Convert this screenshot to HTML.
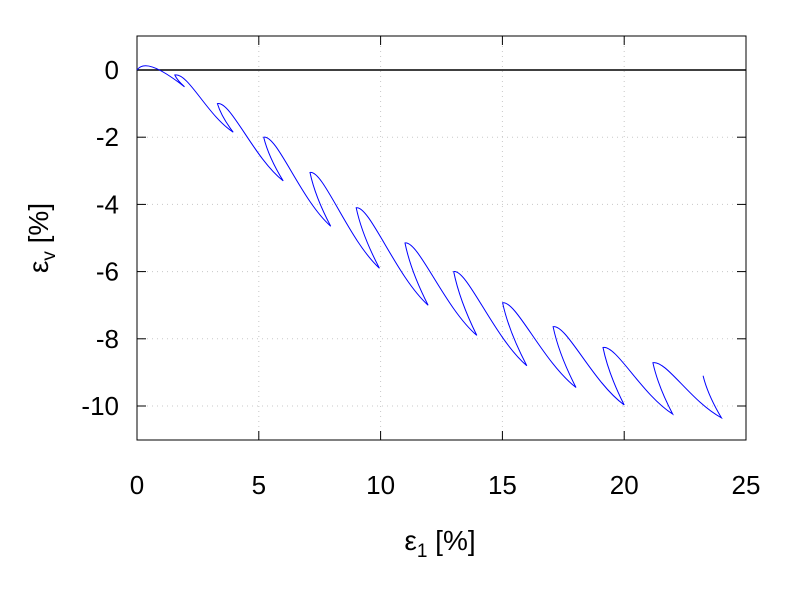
<!DOCTYPE html>
<html><head><meta charset="utf-8"><style>
body{margin:0;background:#fff;}
svg text{font-family:"Liberation Sans",sans-serif;fill:#000;}
</style></head><body>
<svg id="s" width="800" height="600" xmlns="http://www.w3.org/2000/svg">
<rect width="800" height="600" fill="#fff"/>
<g id="grid" stroke="#c8c8c8" stroke-width="1" stroke-dasharray="1,4"></g>
<line x1="137" y1="70" x2="746" y2="70" stroke="#000" stroke-width="1.5"/>
<rect x="137" y="36" width="609" height="404" fill="none" stroke="#000" stroke-width="1"/>
<g id="ticks" stroke="#000" stroke-width="1"></g>
<g id="labels" font-size="26"></g>
<path id="curve" fill="none" stroke="#0000ff" stroke-width="1"/>
<text x="440" y="550" font-size="28" text-anchor="middle">ε<tspan font-size="19" dy="7">1</tspan><tspan dy="-7"> [%]</tspan></text>
<text transform="translate(48,238) rotate(-90)" font-size="28" text-anchor="middle">ε<tspan font-size="19" dy="7">v</tspan><tspan dy="-7"> [%]</tspan></text>
</svg>
<script>
var X=function(v){return 137+v*24.36;},Y=function(v){return 70-v*33.6;};
var g=document.getElementById('grid'),t=document.getElementById('ticks'),l=document.getElementById('labels');
var ns='http://www.w3.org/2000/svg';
function el(p,n,a,txt){var e=document.createElementNS(ns,n);for(var k in a)e.setAttribute(k,a[k]);if(txt!==undefined)e.textContent=txt;p.appendChild(e);}
for(var i=0;i<=25;i+=5){var x=X(i);
 if(i>0&&i<25)el(g,'line',{x1:x,y1:36,x2:x,y2:440});
 el(t,'line',{x1:x,y1:440,x2:x,y2:431});el(t,'line',{x1:x,y1:36,x2:x,y2:45});
 el(l,'text',{x:x,y:494,'text-anchor':'middle'},String(i));}
for(var j=0;j>=-10;j-=2){var y=Y(j);
 if(j<0)el(g,'line',{x1:137,y1:y,x2:746,y2:y});
 el(t,'line',{x1:137,y1:y,x2:146,y2:y});el(t,'line',{x1:746,y1:y,x2:737,y2:y});
 el(l,'text',{x:119,y:y+9,'text-anchor':'end'},String(j));}
var P=[[1.55,-0.15],[3.3,-1.0],[5.2,-2.0],[7.1,-3.05],[9.0,-4.1],[11.0,-5.15],[13.0,-6.0],[15.01,-6.93],[17.08,-7.64],[19.13,-8.26],[21.18,-8.71]];
var E=[[1.95,-0.5],[3.95,-1.85],[6.0,-3.3],[7.95,-4.65],[9.95,-5.9],[11.95,-7.0],[13.95,-7.9],[16.0,-8.8],[18.02,-9.45],[20.0,-9.97],[21.99,-10.24],[23.99,-10.35]];
function pt(a){return X(a[0]).toFixed(1)+' '+Y(a[1]).toFixed(1);}
function reload(p,e){var dx=e[0]-p[0],dy=e[1]-p[1];
 return ' C '+pt([p[0]+0.55,p[1]+0.08])+' '+pt([e[0]-dx*0.45,e[1]-dy*0.3])+' '+pt(e);}
function unload(e,p){return ' Q '+pt([p[0]+0.25*(e[0]-p[0]),p[1]+0.45*(e[1]-p[1])])+' '+pt(p);}
var d='M '+pt([0,0])+' C '+pt([0.25,0.25])+' '+pt([0.8,0.15])+' '+pt(E[0]);
for(var k=0;k<P.length;k++){d+=unload(E[k],P[k]);d+=reload(P[k],E[k+1]);}
d+=unload(E[11],[23.24,-9.1]);
document.getElementById('curve').setAttribute('d',d);
</script>
</body></html>
